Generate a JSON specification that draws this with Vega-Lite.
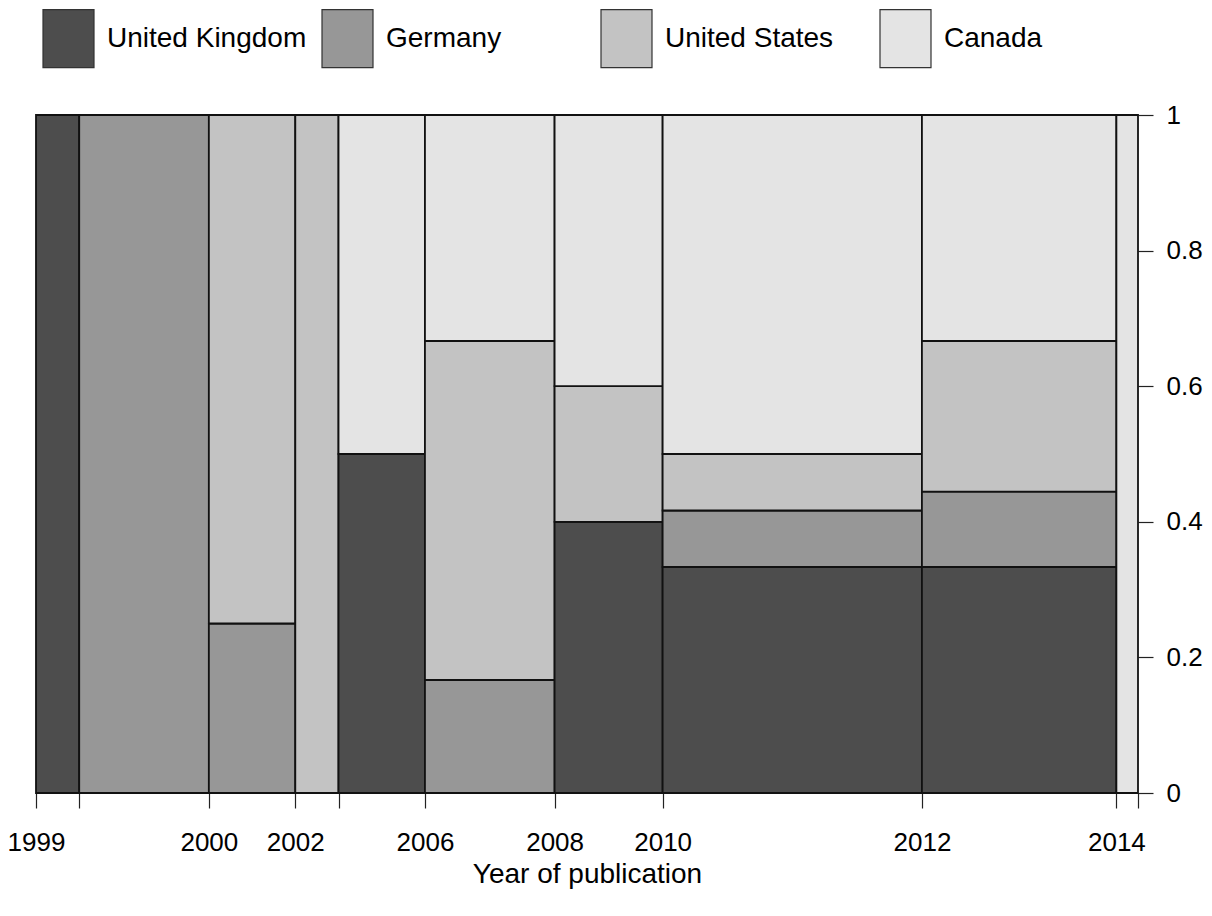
{
  "$schema": "https://vega.github.io/schema/vega-lite/v6.json",
  "width": 1102,
  "height": 678,
  "autosize": {"type": "none"},
  "padding": {"left": 36, "top": 115, "right": 74, "bottom": 123},
  "background": "white",
  "config": {
    "view": {"stroke": null},
    "font": "Liberation Sans"
  },
  "data": {
    "values": [
      {"bin": 1, "country": "United Kingdom", "n": 2},
      {"bin": 2, "country": "Germany", "n": 6},
      {"bin": 3, "country": "Germany", "n": 1},
      {"bin": 3, "country": "United States", "n": 3},
      {"bin": 4, "country": "United States", "n": 2},
      {"bin": 5, "country": "United Kingdom", "n": 2},
      {"bin": 5, "country": "Canada", "n": 2},
      {"bin": 6, "country": "Germany", "n": 1},
      {"bin": 6, "country": "United States", "n": 3},
      {"bin": 6, "country": "Canada", "n": 2},
      {"bin": 7, "country": "United Kingdom", "n": 2},
      {"bin": 7, "country": "United States", "n": 1},
      {"bin": 7, "country": "Canada", "n": 2},
      {"bin": 8, "country": "United Kingdom", "n": 4},
      {"bin": 8, "country": "Germany", "n": 1},
      {"bin": 8, "country": "United States", "n": 1},
      {"bin": 8, "country": "Canada", "n": 6},
      {"bin": 9, "country": "United Kingdom", "n": 3},
      {"bin": 9, "country": "Germany", "n": 1},
      {"bin": 9, "country": "United States", "n": 2},
      {"bin": 9, "country": "Canada", "n": 3},
      {"bin": 10, "country": "Canada", "n": 1}
    ]
  },
  "transform": [
    {"calculate": "indexof(['United Kingdom','Germany','United States','Canada'], datum.country)", "as": "ord"},
    {"stack": "n", "groupby": ["bin"], "sort": [{"field": "ord", "order": "ascending"}], "offset": "normalize", "as": ["y0", "y1"]},
    {"window": [{"op": "sum", "field": "n", "as": "cum"}], "sort": [{"field": "bin", "order": "ascending"}, {"field": "ord", "order": "ascending"}], "frame": [null, 0]},
    {"joinaggregate": [{"op": "max", "field": "cum", "as": "x1"}, {"op": "sum", "field": "n", "as": "tot"}], "groupby": ["bin"]},
    {"calculate": "datum.x1 - datum.tot", "as": "x0"}
  ],
  "mark": {"type": "rect", "stroke": "#111", "strokeWidth": 1.8},
  "encoding": {
    "x": {
      "field": "x0",
      "type": "quantitative",
      "scale": {"domain": [0, 51], "nice": false, "zero": false},
      "axis": {
        "orient": "bottom",
        "values": [0, 2, 8, 12, 14, 18, 24, 29, 41, 50, 51],
        "labelExpr": "datum.value == 0 ? '1999' : datum.value == 8 ? '2000' : datum.value == 12 ? '2002' : datum.value == 18 ? '2006' : datum.value == 24 ? '2008' : datum.value == 29 ? '2010' : datum.value == 41 ? '2012' : datum.value == 50 ? '2014' : ''",
        "domain": false,
        "grid": false,
        "ticks": true,
        "tickSize": 15,
        "tickColor": "#222",
        "tickWidth": 1.2,
        "labelFont": "Liberation Sans",
        "labelFontSize": 26,
        "labelColor": "#000",
        "labelPadding": 21,
        "labelOverlap": false,
        "labelFlush": false,
        "title": "Year of publication",
        "titleFont": "Liberation Sans",
        "titleFontSize": 28,
        "titleFontWeight": "normal",
        "titleColor": "#000",
        "titleBaseline": "alphabetic",
        "titleY": 89
      }
    },
    "x2": {"field": "x1"},
    "y": {
      "field": "y0",
      "type": "quantitative",
      "scale": {"domain": [0, 1], "nice": false},
      "axis": {
        "orient": "right",
        "values": [0, 0.2, 0.4, 0.6, 0.8, 1],
        "format": "~g",
        "domain": false,
        "grid": false,
        "tickSize": 15,
        "tickColor": "#222",
        "tickWidth": 1.2,
        "labelFont": "Liberation Sans",
        "labelFontSize": 26,
        "labelColor": "#000",
        "labelPadding": 13,
        "labelBaseline": "middle",
        "labelFlush": false,
        "labelOverlap": false,
        "title": null
      }
    },
    "y2": {"field": "y1"},
    "color": {
      "field": "country",
      "type": "nominal",
      "scale": {
        "domain": ["United Kingdom", "Germany", "United States", "Canada"],
        "range": ["#4d4d4d", "#979797", "#c3c3c3", "#e4e4e4"]
      },
      "legend": {
        "title": null,
        "orient": "none",
        "legendX": 6,
        "legendY": -103,
        "direction": "horizontal",
        "columns": 4,
        "gridAlign": "all",
        "columnPadding": 12,
        "padding": 0,
        "symbolType": "M-1,-1.137H1V1.137H-1Z",
        "symbolSize": 2601,
        "symbolStrokeColor": "#333",
        "symbolStrokeWidth": 1.2,
        "symbolOpacity": 1,
        "labelFont": "Liberation Sans",
        "labelFontSize": 28,
        "labelColor": "#000",
        "labelOffset": 12,
        "labelLimit": 400
      }
    }
  }
}
